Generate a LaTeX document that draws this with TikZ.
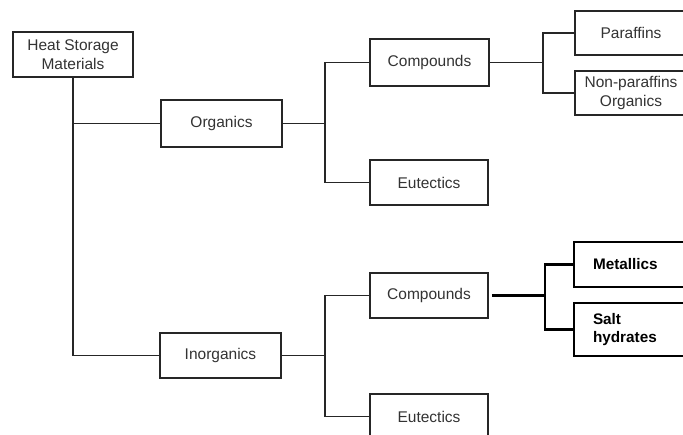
\documentclass[tikz,border=0pt]{standalone}
\usepackage{fontspec}
\setmainfont{Liberation Sans}
\begin{document}
\begin{tikzpicture}[x=1pt,y=-1pt,
  box/.style={draw=black!85, line width=1.8pt, rectangle, inner sep=0pt,
     font=\fontsize{15.5}{19}\selectfont, text=black!80, align=center},
  boldbox/.style={draw=black, line width=2.4pt, rectangle, inner sep=0pt,
     font=\fontsize{15.3}{18}\selectfont\bfseries, text=black, align=left},
  wire/.style={draw=black!85, line width=1.8pt},
  boldwire/.style={draw=black, line width=2.4pt}]
\useasboundingbox (0,0) rectangle (683,435);
\clip (0,0) rectangle (683,435);
\fill[white] (0,0) rectangle (683,435);
% nodes
\node[box, minimum width=120pt, minimum height=45pt] (hsm) at (73,54.5) {Heat Storage\\Materials};
\node[box, minimum width=121pt, minimum height=47pt] (org) at (221.5,123.5) {Organics};
\node[box, minimum width=121pt, minimum height=45pt] (inorg) at (220.5,355.5) {Inorganics};
\node[box, minimum width=119pt, minimum height=47pt] (compA) at (429.5,62.5) {Compounds};
\node[box, minimum width=118pt, minimum height=45pt] (eutA) at (429,182.5) {Eutectics};
\node[box, minimum width=118pt, minimum height=45pt] (compB) at (429,295.5) {Compounds};
\node[box, minimum width=118pt, minimum height=45pt] (eutB) at (429,416.5) {Eutectics};
\node[box, minimum width=112pt, minimum height=44pt] (par) at (631,33) {Paraffins};
\node[box, minimum width=112pt, minimum height=44pt] (npar) at (631,93) {Non-paraffins\\Organics};
\node[boldbox, minimum width=118pt, minimum height=45pt, text width=80pt] (met) at (633,264.5) {Metallics};
\node[boldbox, minimum width=118pt, minimum height=53pt, text width=80pt] (salt) at (633,329.5) {Salt\\hydrates};
% junctions
\coordinate (jA) at (325,123.5);
\coordinate (jB) at (325,355.5);
\coordinate (jC) at (543,62.5);
\coordinate (jD) at (545,295.5);
% connectors
\draw[wire] (hsm.south) |- (org.west);
\draw[wire] (hsm.south) |- (inorg.west);
\draw[wire] (org.east) -- (jA);
\draw[wire] (jA) |- (compA.west);
\draw[wire] (jA) |- (eutA.west);
\draw[wire] (inorg.east) -- (jB);
\draw[wire] (jB) |- (compB.west);
\draw[wire] (jB) |- (eutB.west);
\draw[wire] (compA.east) -- (jC);
\draw[wire] (jC) |- (par.west);
\draw[wire] (jC) |- (npar.west);
\draw[boldwire, shorten <=3pt] (compB.east) -- (jD);
\draw[boldwire] (jD) |- (met.west);
\draw[boldwire] (jD) |- (salt.west);
\end{tikzpicture}
\end{document}
